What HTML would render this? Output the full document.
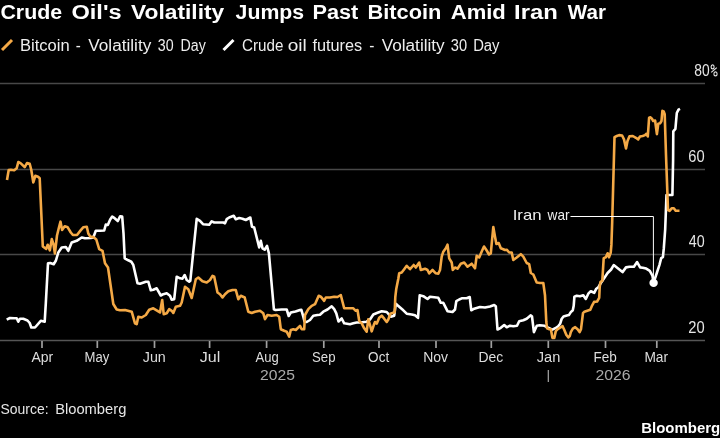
<!DOCTYPE html>
<html><head><meta charset="utf-8"><style>
html,body{margin:0;padding:0;background:#000;}
body{width:720px;height:438px;overflow:hidden;}
svg{display:block;filter:blur(0.35px);}
text{font-family:"Liberation Sans",sans-serif;}
</style></head><body>
<svg width="720" height="438" viewBox="0 0 720 438">
<rect width="720" height="438" fill="#000"/>
<line x1="2" y1="50" x2="12" y2="40" stroke="#f4a946" stroke-width="3"/>
<line x1="223.5" y1="50" x2="233.5" y2="40" stroke="#fff" stroke-width="3"/>
<g stroke="#484848" stroke-width="1.5">
<line x1="0" y1="83.6" x2="705" y2="83.6"/>
<line x1="0" y1="169.5" x2="705" y2="169.5"/>
<line x1="0" y1="254.6" x2="705" y2="254.6"/>
</g>
<polyline points="6.7,319.7 10.0,318.0 14.2,318.3 16.7,318.3 18.3,321.7 20.0,318.7 23.3,318.8 27.5,320.5 29.7,323.0 31.3,327.5 35.0,327.5 40.8,320.8 44.7,321.7 45.8,303.3 48.0,263.3 50.3,263.0 53.7,264.2 55.8,260.8 58.3,252.5 61.7,247.5 65.8,247.0 68.3,250.8 71.7,242.5 76.7,240.8 81.7,237.5 85.0,238.3 90.8,238.0 93.3,237.5 95.8,230.8 100.0,230.8 104.2,230.5 105.8,224.6 107.8,225.0 110.2,219.4 112.2,216.6 114.6,218.2 117.8,221.0 120.2,216.2 122.2,216.6 123.5,233.3 124.7,258.3 128.3,260.3 131.3,261.7 133.3,265.0 137.5,283.3 140.0,283.8 145.8,281.7 148.3,281.7 150.8,290.3 153.3,289.7 156.7,288.3 160.8,295.5 163.3,294.2 166.7,293.3 170.0,295.8 171.7,299.7 174.2,299.2 176.7,276.7 180.0,278.3 182.5,278.7 184.7,275.0 186.7,280.0 189.2,281.7 190.3,280.8 196.7,218.8 200.0,220.8 203.0,224.2 209.2,224.7 211.7,221.3 214.2,222.5 223.3,222.5 225.0,223.3 226.7,219.2 229.2,217.5 233.7,215.8 235.8,219.2 239.2,218.0 242.5,218.7 245.8,220.0 250.3,217.5 252.0,226.7 254.2,227.5 259.2,247.5 260.8,240.8 262.5,248.3 264.7,249.7 267.0,245.8 268.9,253.3 273.9,309.3 275.5,310.0 281.7,309.5 286.7,309.5 288.7,316.0 290.8,312.5 295.5,311.5 300.0,310.0 301.3,309.7 303.3,316.7 304.5,321.5 306.7,322.0 310.0,320.0 313.3,315.8 317.5,315.0 320.0,314.7 323.3,311.7 327.5,309.5 331.7,306.3 334.2,309.2 336.3,313.3 338.5,321.5 341.7,318.5 344.2,323.3 350.0,324.2 353.3,323.3 356.7,322.5 360.0,322.5 366.7,321.7 370.0,319.5 373.3,314.5 377.5,312.8 381.7,311.2 386.7,312.0 390.8,316.7 394.2,315.7 395.8,303.7 397.5,305.3 403.3,310.3 406.7,313.7 411.7,314.5 415.0,315.3 418.0,317.8 419.7,295.3 423.3,296.2 427.5,299.0 430.0,296.7 434.2,297.3 438.3,297.8 440.8,302.8 443.3,302.8 447.5,311.2 452.5,312.0 455.0,309.5 456.3,301.2 459.2,299.5 461.7,298.3 466.7,298.3 469.7,297.0 471.3,310.3 474.2,308.7 480.0,307.0 485.0,307.5 490.0,306.5 494.2,305.0 495.8,306.2 497.5,329.5 500.8,327.8 504.2,325.0 506.7,327.3 510.0,325.7 513.3,326.2 517.0,325.7 519.2,321.2 523.3,320.3 526.7,318.7 530.8,315.3 532.0,316.5 533.9,332.1 536.8,325.8 539.7,325.3 544.6,325.8 547.0,327.2 552.4,329.6 555.3,328.2 558.2,326.2 560.1,323.8 561.6,319.0 563.5,316.5 566.9,315.5 568.9,315.1 570.8,312.1 572.8,310.2 573.7,305.8 574.4,296.7 576.7,295.7 580.0,296.2 583.3,295.3 585.8,299.0 588.3,293.7 590.8,291.2 594.2,292.8 596.3,288.7 598.3,287.3 600.5,283.5 604.1,278.3 607.6,273.0 611.1,269.5 613.7,265.1 618.1,268.6 622.5,272.1 626.0,267.4 629.5,266.8 633.9,266.8 637.1,262.1 640.1,267.4 642.7,267.7 646.2,268.6 649.8,270.9 652.4,275.6 653.6,282.7 656.8,273.0 659.4,265.1 661.2,258.1 662.9,257.2 663.8,248.4 665.2,229.1 666.5,195.0 672.4,195.0 673.1,160.0 673.2,145.0 673.3,131.3 675.4,128.9 676.8,113.0 678.5,109.6 680.0,108.8" fill="none" stroke="#fff" stroke-width="2.6" stroke-linejoin="round" stroke-miterlimit="2.5" stroke-linecap="butt"/>
<polyline points="7.0,180.0 8.7,170.0 10.8,169.7 14.2,170.3 16.7,168.3 18.3,162.0 20.8,163.3 24.7,167.2 27.0,163.0 29.7,163.7 31.3,170.0 33.3,182.5 35.3,175.8 38.0,176.7 39.7,178.3 42.8,246.5 46.2,248.9 47.7,244.8 49.8,250.4 51.8,239.1 53.4,243.8 54.9,253.5 57.0,235.5 59.0,227.3 60.5,221.7 62.1,229.9 64.7,226.3 67.7,227.3 70.8,232.5 72.9,235.0 77.0,235.0 80.6,230.4 83.2,227.3 86.8,226.8 88.3,233.5 90.3,236.6 93.4,237.1 96.3,239.5 99.2,249.2 102.5,250.8 105.0,263.3 108.0,267.5 113.3,304.0 116.7,309.5 120.0,310.3 125.0,310.0 131.7,311.7 135.0,323.3 136.7,324.2 138.3,316.7 141.7,317.5 145.8,315.0 149.2,309.7 153.3,308.3 157.5,310.8 160.0,312.5 162.2,300.0 163.7,314.2 166.7,313.3 169.2,309.2 171.7,310.8 173.3,313.0 175.8,306.7 180.0,305.8 181.7,302.5 185.0,286.7 188.3,289.2 191.7,298.0 195.8,279.2 198.3,277.5 202.5,281.3 206.7,282.5 210.0,280.0 212.5,275.8 214.2,276.7 217.5,292.5 220.0,294.2 222.5,297.5 225.0,294.2 228.3,291.3 232.5,290.0 235.8,290.0 238.3,299.2 240.8,295.8 244.7,297.5 248.3,311.7 251.7,313.0 255.0,311.7 260.0,310.8 263.3,313.3 265.0,319.2 267.5,315.0 271.7,315.8 276.7,315.0 279.2,316.7 280.8,329.2 284.2,330.8 286.7,331.7 289.2,336.7 290.8,330.0 293.3,329.2 295.8,330.0 300.0,325.8 301.7,329.2 304.2,329.2 305.0,315.0 308.3,309.2 311.7,305.8 315.0,304.2 318.7,295.8 320.8,296.7 324.2,300.8 325.8,297.5 330.0,297.5 334.2,296.7 337.5,297.0 340.8,295.0 342.5,301.7 344.2,308.3 348.3,308.3 353.3,308.3 355.8,310.8 357.5,310.0 359.2,320.8 361.7,323.3 364.2,328.3 366.7,331.7 368.3,319.2 370.0,325.0 371.7,331.3 373.7,325.3 375.0,322.0 376.7,323.7 379.2,317.8 381.7,315.7 384.2,318.7 386.7,322.0 388.3,319.5 390.3,313.7 393.3,312.8 394.7,312.0 395.3,297.0 396.3,288.7 398.3,278.7 399.2,273.3 401.7,272.5 404.2,269.2 406.7,265.8 410.0,269.2 413.7,265.0 415.8,267.5 419.2,262.5 420.8,270.0 425.0,268.7 427.5,270.0 429.2,273.3 432.5,270.0 435.8,273.3 438.3,273.7 440.0,270.0 441.7,256.7 443.3,251.7 445.8,248.3 447.5,244.7 449.2,258.3 451.7,262.5 452.8,270.0 455.0,267.5 457.5,268.7 460.8,263.7 464.2,262.5 467.5,266.7 471.7,263.7 475.0,268.3 476.7,255.8 479.2,257.5 481.5,252.0 484.0,246.5 486.7,250.5 489.0,254.5 490.8,253.3 493.3,227.0 495.0,236.7 496.4,244.0 498.7,243.0 500.8,248.3 503.3,249.2 505.0,250.0 506.7,249.7 509.2,252.5 511.7,252.5 513.3,260.0 516.7,257.5 520.8,254.2 523.3,256.7 526.7,263.0 529.2,264.2 530.8,273.0 533.3,274.5 536.7,282.5 540.0,283.0 543.3,283.0 545.0,295.3 546.3,322.0 547.0,328.2 549.4,329.2 550.9,329.2 552.4,337.9 554.3,337.9 555.8,331.1 557.7,329.2 560.1,327.7 562.6,326.2 564.0,329.2 566.4,335.0 568.4,337.4 569.8,336.0 570.8,332.1 572.8,328.7 575.2,327.2 577.6,329.2 579.6,332.1 581.0,329.2 583.0,313.1 584.4,311.7 587.3,310.7 590.3,309.7 592.2,305.3 594.1,301.9 597.1,301.5 599.2,297.8 599.7,287.0 600.5,281.8 602.3,280.9 603.7,258.1 605.8,257.2 607.6,253.3 609.0,257.2 610.7,252.8 611.4,244.9 612.2,222.0 614.5,137.1 616.8,136.0 619.1,135.1 622.1,135.5 624.0,139.4 626.0,148.5 627.5,140.9 629.5,136.3 632.8,136.0 635.9,137.8 638.2,139.4 640.0,136.5 642.7,136.0 645.0,135.1 646.4,133.8 647.8,136.5 649.1,117.8 650.5,117.3 651.9,118.7 653.2,121.0 655.1,120.5 656.9,134.2 658.3,123.7 660.1,123.3 661.5,121.0 662.4,110.9 663.7,111.4 664.7,114.1 666.0,155.0 668.0,210.0 669.6,210.8 671.9,208.2 673.8,208.2 675.7,210.8 679.5,210.8" fill="none" stroke="#f4a946" stroke-width="2.6" stroke-linejoin="round" stroke-miterlimit="2.5" stroke-linecap="butt"/>
<line x1="0" y1="340.4" x2="705" y2="340.4" stroke="#555555" stroke-width="1.5"/>
<g stroke="#a0a0a0" stroke-width="1.7"><line x1="42" y1="341.0" x2="42" y2="348"/><line x1="97.3" y1="341.0" x2="97.3" y2="348"/><line x1="154.5" y1="341.0" x2="154.5" y2="348"/><line x1="209.6" y1="341.0" x2="209.6" y2="348"/><line x1="266.6" y1="341.0" x2="266.6" y2="348"/><line x1="323.8" y1="341.0" x2="323.8" y2="348"/><line x1="379" y1="341.0" x2="379" y2="348"/><line x1="436" y1="341.0" x2="436" y2="348"/><line x1="491.3" y1="341.0" x2="491.3" y2="348"/><line x1="548.3" y1="341.0" x2="548.3" y2="348"/><line x1="605.5" y1="341.0" x2="605.5" y2="348"/><line x1="656.8" y1="341.0" x2="656.8" y2="348"/></g>
<line x1="548.3" y1="370" x2="548.3" y2="382" stroke="#aaaaaa" stroke-width="1.2"/>
<polyline points="570.5,216.5 653.4,216.5 653.4,282.7" fill="none" stroke="#fff" stroke-width="1"/>
<circle cx="653.6" cy="282.9" r="4.2" fill="#fff"/>
<text x="0.43" y="18.7" font-size="20" font-weight="bold" fill="#fff" textLength="61.7" lengthAdjust="spacingAndGlyphs">Crude</text>
<text x="71.46" y="18.7" font-size="20" font-weight="bold" fill="#fff" textLength="50.19" lengthAdjust="spacingAndGlyphs">Oil&#39;s</text>
<text x="131.1" y="18.7" font-size="20" font-weight="bold" fill="#fff" textLength="93.16" lengthAdjust="spacingAndGlyphs">Volatility</text>
<text x="235.6" y="18.7" font-size="20" font-weight="bold" fill="#fff" textLength="68.56" lengthAdjust="spacingAndGlyphs">Jumps</text>
<text x="312.44" y="18.7" font-size="20" font-weight="bold" fill="#fff" textLength="45.86" lengthAdjust="spacingAndGlyphs">Past</text>
<text x="367.54" y="18.7" font-size="20" font-weight="bold" fill="#fff" textLength="73.92" lengthAdjust="spacingAndGlyphs">Bitcoin</text>
<text x="450.76" y="18.7" font-size="20" font-weight="bold" fill="#fff" textLength="55.05" lengthAdjust="spacingAndGlyphs">Amid</text>
<text x="514.11" y="18.7" font-size="20" font-weight="bold" fill="#fff" textLength="43.74" lengthAdjust="spacingAndGlyphs">Iran</text>
<text x="567.8" y="18.7" font-size="20" font-weight="bold" fill="#fff" textLength="38.09" lengthAdjust="spacingAndGlyphs">War</text>
<text x="20.01" y="50.6" font-size="16" fill="#eeeeee" textLength="49.62" lengthAdjust="spacingAndGlyphs">Bitcoin</text>
<text x="75.83" y="50.6" font-size="16" fill="#eeeeee" textLength="5.01" lengthAdjust="spacingAndGlyphs">-</text>
<text x="88.3" y="50.6" font-size="16" fill="#eeeeee" textLength="63.0" lengthAdjust="spacingAndGlyphs">Volatility</text>
<text x="157.86" y="50.6" font-size="16" fill="#eeeeee" textLength="15.8" lengthAdjust="spacingAndGlyphs">30</text>
<text x="180.59" y="50.6" font-size="16" fill="#eeeeee" textLength="25.21" lengthAdjust="spacingAndGlyphs">Day</text>
<text x="241.99" y="50.6" font-size="16" fill="#eeeeee" textLength="41.33" lengthAdjust="spacingAndGlyphs">Crude</text>
<text x="287.7" y="50.6" font-size="16" fill="#eeeeee" textLength="19.05" lengthAdjust="spacingAndGlyphs">oil</text>
<text x="312.5" y="50.6" font-size="16" fill="#eeeeee" textLength="49.71" lengthAdjust="spacingAndGlyphs">futures</text>
<text x="369.22" y="50.6" font-size="16" fill="#eeeeee" textLength="5.14" lengthAdjust="spacingAndGlyphs">-</text>
<text x="381.7" y="50.6" font-size="16" fill="#eeeeee" textLength="63.0" lengthAdjust="spacingAndGlyphs">Volatility</text>
<text x="450.84" y="50.6" font-size="16" fill="#eeeeee" textLength="16.22" lengthAdjust="spacingAndGlyphs">30</text>
<text x="473.14" y="50.6" font-size="16" fill="#eeeeee" textLength="26.36" lengthAdjust="spacingAndGlyphs">Day</text>
<text x="694.27" y="76.1" font-size="16.5" fill="#e6e6e6" textLength="15.38" lengthAdjust="spacingAndGlyphs">80</text>
<text x="688.31" y="161.8" font-size="16.5" fill="#e6e6e6" textLength="16.36" lengthAdjust="spacingAndGlyphs">60</text>
<text x="688.78" y="247.1" font-size="16.5" fill="#e6e6e6" textLength="15.88" lengthAdjust="spacingAndGlyphs">40</text>
<text x="688.21" y="332.9" font-size="16.5" fill="#e6e6e6" textLength="16.36" lengthAdjust="spacingAndGlyphs">20</text>
<text x="31.4" y="362.0" font-size="15.5" fill="#dddddd" textLength="21.77" lengthAdjust="spacingAndGlyphs">Apr</text>
<text x="84.48" y="362.0" font-size="15.5" fill="#dddddd" textLength="24.77" lengthAdjust="spacingAndGlyphs">May</text>
<text x="142.78" y="362.0" font-size="15.5" fill="#dddddd" textLength="23.03" lengthAdjust="spacingAndGlyphs">Jun</text>
<text x="199.75" y="362.0" font-size="15.5" fill="#dddddd" textLength="20.56" lengthAdjust="spacingAndGlyphs">Jul</text>
<text x="255.5" y="362.0" font-size="15.5" fill="#dddddd" textLength="23.23" lengthAdjust="spacingAndGlyphs">Aug</text>
<text x="312.09" y="362.0" font-size="15.5" fill="#dddddd" textLength="23.45" lengthAdjust="spacingAndGlyphs">Sep</text>
<text x="368.11" y="362.0" font-size="15.5" fill="#dddddd" textLength="21.09" lengthAdjust="spacingAndGlyphs">Oct</text>
<text x="423.16" y="362.0" font-size="15.5" fill="#dddddd" textLength="24.84" lengthAdjust="spacingAndGlyphs">Nov</text>
<text x="478.41" y="362.0" font-size="15.5" fill="#dddddd" textLength="24.81" lengthAdjust="spacingAndGlyphs">Dec</text>
<text x="536.77" y="362.0" font-size="15.5" fill="#dddddd" textLength="23.55" lengthAdjust="spacingAndGlyphs">Jan</text>
<text x="593.44" y="362.0" font-size="15.5" fill="#dddddd" textLength="23.36" lengthAdjust="spacingAndGlyphs">Feb</text>
<text x="644.43" y="362.0" font-size="15.5" fill="#dddddd" textLength="23.64" lengthAdjust="spacingAndGlyphs">Mar</text>
<text x="260.02" y="380.3" font-size="15.5" fill="#aaaaaa" textLength="34.87" lengthAdjust="spacingAndGlyphs">2025</text>
<text x="595.51" y="380.3" font-size="15.5" fill="#aaaaaa" textLength="35.13" lengthAdjust="spacingAndGlyphs">2026</text>
<text x="512.69" y="219.6" font-size="15" fill="#eeeeee" textLength="28.85" lengthAdjust="spacingAndGlyphs">Iran</text>
<text x="547.61" y="219.6" font-size="15" fill="#eeeeee" textLength="21.95" lengthAdjust="spacingAndGlyphs">war</text>
<text x="0.46" y="414.4" font-size="15" fill="#e6e6e6" textLength="48.1" lengthAdjust="spacingAndGlyphs">Source:</text>
<text x="55.15" y="414.4" font-size="15" fill="#e6e6e6" textLength="71.18" lengthAdjust="spacingAndGlyphs">Bloomberg</text>
<text x="641.26" y="432.6" font-size="15" font-weight="bold" fill="#fff" textLength="78.99" lengthAdjust="spacingAndGlyphs">Bloomberg</text>
<g fill="none" stroke="#e6e6e6" stroke-width="1.1"><ellipse cx="712.6" cy="66.9" rx="1.5" ry="2.0"/><ellipse cx="715.5" cy="73.9" rx="1.6" ry="2.0"/><line x1="716.8" y1="67.6" x2="711.2" y2="72.4"/></g>
</svg>
</body></html>
